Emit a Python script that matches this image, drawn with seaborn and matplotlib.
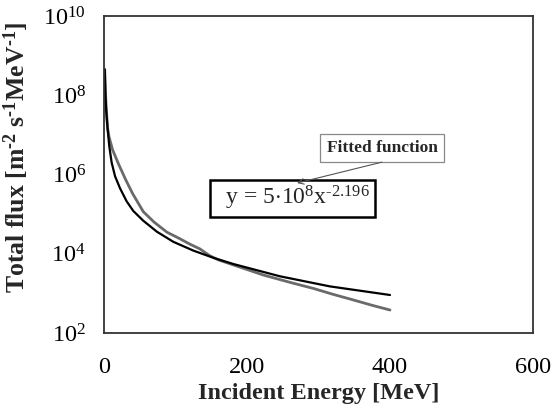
import numpy as np
import pandas as pd
import matplotlib
matplotlib.use("Agg")
import matplotlib.pyplot as plt
import matplotlib.ticker as mticker
import seaborn as sns

# ---- data ----
data_energy = [1, 2, 3, 5, 7, 12, 20, 30, 40, 55, 70, 88, 106, 120, 134, 148, 160,
               176, 200, 223, 260, 293, 320, 349, 375, 400]
data_flux = [4.5e8, 1.3e8, 5.0e7, 1.5e7, 9.0e6, 4.2e6, 1.9e6, 7.6e5, 3.3e5, 1.15e5,
             6.3e4, 3.5e4, 2.4e4, 1.75e4, 1.33e4, 8.9e3, 7.0e3, 5.6e3, 4.0e3, 2.9e3,
             1.9e3, 1.33e3, 9.5e2, 6.8e2, 5.0e2, 3.8e2]

fit_energy = [1, 2, 3, 5, 7.5, 10.7, 15.4, 22.4, 31.7, 41, 55, 74, 97, 125, 153,
              181, 246, 316, 400]
fit_flux = [4.5e8, 1.0e8, 4.4e7, 1.45e7, 5.0e6, 2.0e6, 9.1e5, 4.5e5, 2.1e5, 1.2e5,
            6.8e4, 3.6e4, 2.0e4, 1.2e4, 7.9e3, 5.5e3, 2.7e3, 1.5e3, 9.1e2]

x_ticks = [0, 200, 400, 600]
y_ticks = [1e2, 1e4, 1e6, 1e8, 1e10]

sns.set_style("white")
plt.rcParams['font.family'] = ['Liberation Serif', 'DejaVu Serif']
plt.rcParams['mathtext.fontset'] = 'custom'
plt.rcParams['mathtext.rm'] = 'Liberation Serif'
plt.rcParams['mathtext.it'] = 'Liberation Serif:italic'
plt.rcParams['mathtext.bf'] = 'Liberation Serif:bold'

df_data = pd.DataFrame({"energy": data_energy, "flux": data_flux})
df_fit = pd.DataFrame({"energy": fit_energy, "flux": fit_flux})

fig = plt.figure(figsize=(5.53, 4.11), dpi=100)
ax = fig.add_axes([104/553, 1-333/411, 429/553, 317/411])

sns.lineplot(data=df_data, x="energy", y="flux", ax=ax, color="#6a6a6a", lw=2.0)
sns.lineplot(data=df_fit, x="energy", y="flux", ax=ax, color="black", lw=1.6)

ax.set_yscale("log")
ax.set_xlim(0, 600)
ax.set_ylim(1e2, 1e10)
ax.xaxis.set_major_locator(mticker.FixedLocator(x_ticks))
ax.yaxis.set_major_locator(mticker.FixedLocator(y_ticks))
ax.yaxis.set_minor_locator(mticker.NullLocator())
ax.yaxis.set_major_formatter(mticker.LogFormatterMathtext())

ax.tick_params(axis='both', which='major', direction='in', length=4, width=0.8,
               color='#bbbbbb', labelsize=17.5, labelcolor='black')
ax.tick_params(axis='x', pad=17)
ax.tick_params(axis='y', pad=13)

for s in ax.spines.values():
    s.set_color('#333333')
    s.set_linewidth(1.3)
    s.set_visible(True)

ax.set_xlabel("Incident Energy [MeV]", fontsize=17.5, fontweight='bold', va='top')
ax.xaxis.set_label_coords(0.5, -0.158)
ax.set_ylabel('Total flux [m$^{\\mathbf{\u20102}}$ s$^{\\mathbf{\u20101}}$MeV$^{\\mathbf{\u20101}}$]',
              fontsize=18.5, fontweight='bold')
ax.yaxis.set_label_coords(-0.17, 0.555)

ax.text(0.648, 0.584, "Fitted function", transform=ax.transAxes, ha='center', va='center',
        fontsize=12.5, fontweight='bold',
        bbox=dict(boxstyle='square,pad=0.35', fc='white', ec='#888888', lw=0.9))
ax.text(0.4395, 0.425, '  y = 5$\\cdot$10$^{\\mathdefault{8}}$x$^{\\mathdefault{\u20102.196}}$ ',
        transform=ax.transAxes, ha='center', va='center', fontsize=17,
        bbox=dict(boxstyle='square,pad=0.18', fc='white', ec='black', lw=1.8))
ax.annotate("", xy=(0.450, 0.473), xytext=(0.648, 0.539),
            xycoords='axes fraction', textcoords='axes fraction',
            arrowprops=dict(arrowstyle='->', color='#555555', lw=0.8,
                            shrinkA=0, shrinkB=0))

fig.savefig("out.png", dpi=100)
